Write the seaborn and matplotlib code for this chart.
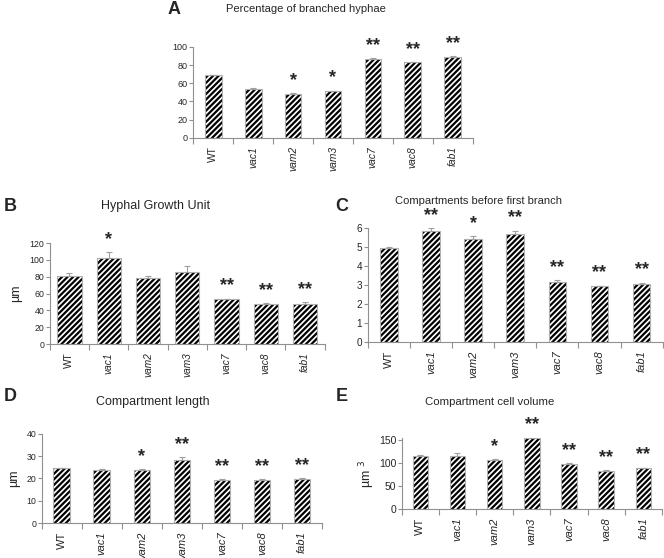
import matplotlib
matplotlib.use("Agg")
import matplotlib.pyplot as plt
import seaborn as sns
import numpy as np
import pandas as pd

# Data
strains = ['WT', 'vac1', 'vam2', 'vam3', 'vac7', 'vac8', 'fab1']

branched_pct = [69, 54, 48, 51, 87, 83, 89]
branched_err = [0.5, 0.5, 0.8, 1.0, 0.5, 0.5, 0.8]
branched_sig = ['', '', '*', '*', '**', '**', '**']

hgu = [81, 102, 78, 85, 53, 47, 47.5]
hgu_err = [3, 7, 3, 8, 1, 2, 2]
hgu_sig = ['', '*', '', '', '**', '**', '**']

comp_before = [4.97, 5.87, 5.45, 5.7, 3.15, 2.93, 3.08]
comp_before_err = [0.05, 0.12, 0.14, 0.17, 0.12, 0.04, 0.05]
comp_before_sig = ['', '**', '*', '**', '**', '**', '**']

comp_length = [24.6, 23.8, 23.7, 28.2, 19.3, 19.3, 19.9]
comp_length_err = [0.2, 0.4, 0.3, 1.4, 0.5, 0.2, 0.3]
comp_length_sig = ['', '', '*', '**', '**', '**', '**']

comp_volume = [117, 117, 107, 155, 98, 84, 89]
comp_volume_err = [1.5, 4.5, 2, 2, 2, 1.5, 1.5]
comp_volume_sig = ['', '', '*', '**', '**', '**', '**']

sns.set_theme(style='white')
plt.rcParams['font.family'] = ['Liberation Sans', 'DejaVu Sans']
plt.rcParams['hatch.linewidth'] = 1.6

fig = plt.figure(figsize=(6.64, 5.58), dpi=100)


def panel(rect, vals, errs, sig, ylim, yticks, title, letter, title_xy, letter_xy,
          ylabel=None, ylabel_x=None, star_off=3, bar_w=0.42, ytick_fs=6.5,
          xtick_fs=8, title_fs=9):
    ax = fig.add_axes(rect)
    df = pd.DataFrame({'strain': strains, 'value': vals})
    sns.barplot(data=df, x='strain', y='value', color='white', width=bar_w,
                edgecolor='black', linewidth=0, ax=ax)
    for p in ax.patches:
        p.set_hatch('//////')
        p.set_edgecolor('black')
    # gray outline on top of the hatch
    for p in list(ax.patches):
        ax.add_patch(plt.Rectangle(p.get_xy(), p.get_width(), p.get_height(),
                                   fill=False, edgecolor='#b0b0b0', linewidth=0.8))
    x = np.arange(len(strains))
    ax.errorbar(x, vals, yerr=[np.zeros(len(errs)), errs], fmt='none',
                ecolor='#a0a0a0', elinewidth=0.8, capsize=2.5, capthick=0.8)
    for xi, v, e, s in zip(x, vals, errs, sig):
        if s:
            ax.annotate(s, (xi, v + e), xytext=(0, star_off), textcoords='offset points',
                        ha='center', va='bottom', fontsize=13, fontweight='bold',
                        annotation_clip=False)
    ax.set_ylim(*ylim)
    ax.set_xlim(-0.5, len(strains) - 0.5)
    ax.set_yticks(yticks)
    ax.set_yticklabels([str(t) for t in yticks], fontsize=ytick_fs)
    ax.set_xticks(x)
    ax.set_xticklabels(strains, rotation=90, fontsize=xtick_fs)
    for lbl in ax.get_xticklabels()[1:]:
        lbl.set_style('italic')
    ax.set_xticks(np.arange(len(strains) + 1) - 0.5, minor=True)
    ax.tick_params(axis='x', which='major', length=0, pad=6)
    ax.tick_params(axis='x', which='minor', length=4, color='#909090', width=0.8,
                   bottom=True)
    ax.tick_params(axis='y', length=3, color='#909090', width=0.8, left=True, pad=1)
    ax.set_xlabel('')
    ax.set_ylabel('')
    for side in ['top', 'right']:
        ax.spines[side].set_visible(False)
    for side in ['left', 'bottom']:
        ax.spines[side].set_color('#909090')
        ax.spines[side].set_linewidth(0.8)
    fig.text(title_xy[0], title_xy[1], title, fontsize=title_fs, ha='left', va='center')
    fig.text(letter_xy[0], letter_xy[1], letter, fontsize=13, fontweight='bold',
             ha='left', va='center')
    if ylabel:
        fig.text(ylabel_x, rect[1] + rect[3] / 2, ylabel, rotation=90, fontsize=9,
                 ha='center', va='center')
    return ax


panel([0.291, 0.753, 0.421, 0.163], branched_pct, branched_err, branched_sig,
      (0, 100), [0, 20, 40, 60, 80, 100], 'Percentage of branched hyphae', 'A',
      (0.34, 0.983), (0.253, 0.983), xtick_fs=7.4, ytick_fs=6.5, title_fs=8)
panel([0.075, 0.3835, 0.414, 0.181], hgu, hgu_err, hgu_sig,
      (0, 120), [0, 20, 40, 60, 80, 100, 120], 'Hyphal Growth Unit', 'B',
      (0.152, 0.63), (0.006, 0.63), ylabel='µm', ylabel_x=0.025,
      bar_w=0.62, xtick_fs=7.3, ytick_fs=6.3)
panel([0.554, 0.387, 0.444, 0.204], comp_before, comp_before_err, comp_before_sig,
      (0, 6), [0, 1, 2, 3, 4, 5, 6], 'Compartments before first branch', 'C',
      (0.595, 0.64), (0.505, 0.63), xtick_fs=8, ytick_fs=7.2, title_fs=8)
panel([0.063, 0.0627, 0.422, 0.16], comp_length, comp_length_err, comp_length_sig,
      (0, 40), [0, 10, 20, 30, 40], 'Compartment length', 'D',
      (0.145, 0.28), (0.006, 0.29), ylabel='µm', ylabel_x=0.022,
      xtick_fs=8, ytick_fs=6.3)
panel([0.605, 0.0878, 0.392, 0.127], comp_volume, comp_volume_err, comp_volume_sig,
      (0, 155), [0, 50, 100, 150], 'Compartment cell volume', 'E',
      (0.64, 0.28), (0.505, 0.29), ylabel='µm $^3$', ylabel_x=0.553,
      xtick_fs=8, ytick_fs=7.5, title_fs=8.2)

fig.savefig('out.png', dpi=100, facecolor='white')
